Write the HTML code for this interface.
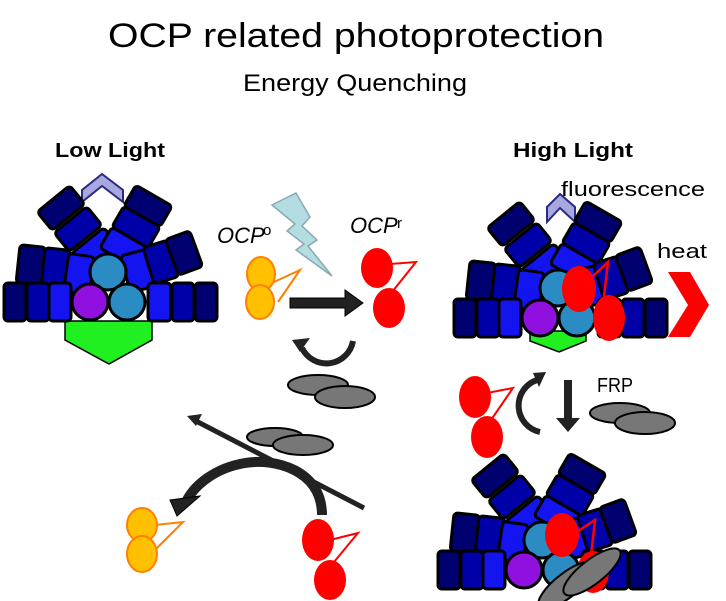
<!DOCTYPE html>
<html><head><meta charset="utf-8"><style>
html,body{margin:0;padding:0;background:#fff;}
svg{display:block;}
text{font-family:"Liberation Sans",sans-serif;fill:#000;}
</style></head><body>
<svg width="726" height="601" viewBox="0 0 726 601" xmlns="http://www.w3.org/2000/svg">
<defs>
<g id="pbs" stroke="#000" stroke-width="3">
  <rect x="-21" y="-12" width="42" height="24" rx="4" fill="#000070" transform="translate(61,208) rotate(-39)"/>
  <rect x="-21" y="-12" width="42" height="24" rx="4" fill="#0000a8" transform="translate(78,229) rotate(-39)"/>
  <rect x="-21" y="-12" width="42" height="24" rx="4" fill="#1414f0" transform="translate(95,250) rotate(-39)"/>
  <rect x="-21" y="-12" width="42" height="24" rx="4" fill="#000070" transform="translate(148,206) rotate(30)"/>
  <rect x="-21" y="-12" width="42" height="24" rx="4" fill="#0000a8" transform="translate(136,227) rotate(30)"/>
  <rect x="-21" y="-12" width="42" height="24" rx="4" fill="#1414f0" transform="translate(124,248) rotate(30)"/>
  <rect x="-13" y="-19" width="26" height="38" rx="4" fill="#000070" transform="translate(31,265) rotate(6)"/>
  <rect x="-13" y="-19" width="26" height="38" rx="4" fill="#0000a8" transform="translate(56,268) rotate(6)"/>
  <rect x="-13" y="-19" width="26" height="38" rx="4" fill="#1414f0" transform="translate(79,274) rotate(8)"/>
  <rect x="-13" y="-19" width="26" height="38" rx="4" fill="#1414f0" transform="translate(138,271) rotate(-15)"/>
  <rect x="-13" y="-19" width="26" height="38" rx="4" fill="#0000a8" transform="translate(161,262) rotate(-17)"/>
  <rect x="-13" y="-19" width="26" height="38" rx="4" fill="#000070" transform="translate(184,253) rotate(-20)"/>
  <circle cx="108" cy="272" r="18" fill="#2b8cc4"/>
  <circle cx="90" cy="302" r="18" fill="#9010e0"/>
  <circle cx="127" cy="302" r="18" fill="#2b8cc4"/>
  <rect x="4" y="283" width="22" height="38" rx="4" fill="#000070"/>
  <rect x="27" y="283" width="22" height="38" rx="4" fill="#0000a8"/>
  <rect x="49" y="283" width="22" height="38" rx="4" fill="#1414f0"/>
  <rect x="148" y="283" width="23" height="38" rx="4" fill="#1414f0"/>
  <rect x="172" y="283" width="22" height="38" rx="4" fill="#0000a8"/>
  <rect x="195" y="283" width="22" height="38" rx="4" fill="#000070"/>
</g>
</defs>

<text x="356" y="47" font-size="34" text-anchor="middle" textLength="496" lengthAdjust="spacingAndGlyphs">OCP related photoprotection</text>
<text x="355" y="91" font-size="24" text-anchor="middle" textLength="224" lengthAdjust="spacingAndGlyphs">Energy Quenching</text>
<text x="55" y="157" font-size="20" font-weight="bold" textLength="110" lengthAdjust="spacingAndGlyphs">Low Light</text>
<text x="513" y="157" font-size="20" font-weight="bold" textLength="120" lengthAdjust="spacingAndGlyphs">High Light</text>

<polygon points="82,190 102,174 123,190 123,202 102,186 82,202" fill="#a8a8e0" stroke="#2a2a80" stroke-width="2"/>
<polygon points="65,321 152,321 152,340 109,364 65,340" fill="#20f020" stroke="#000" stroke-width="1.5"/>
<use href="#pbs"/>

<text x="217" y="243" font-size="22" font-style="italic">OCP</text>
<text x="263" y="235" font-size="15">o</text>
<polygon points="272,205 296,193 310,217 302,226 317,240 308,246 332,276 296,250 304,244 287,231 295,224" fill="#b4dde2" stroke="#88aab0" stroke-width="1.5"/>
<path d="M274,282 L300,270 L278,302" fill="none" stroke="#ff8000" stroke-width="2"/>
<ellipse cx="261" cy="274" rx="14" ry="17" fill="#ffc000" stroke="#ff8000" stroke-width="2"/>
<ellipse cx="260" cy="302" rx="14" ry="17" fill="#ffc000" stroke="#ff8000" stroke-width="2"/>
<polygon points="290,298 345,298 345,290 363,303 345,316 345,308 290,308" fill="#222" stroke="#000" stroke-width="1"/>
<text x="350" y="233" font-size="22" font-style="italic">OCP</text>
<text x="397" y="228" font-size="15">r</text>
<path d="M390,264 L416,262 L392,292" fill="none" stroke="#ff0000" stroke-width="2"/>
<ellipse cx="377" cy="268" rx="16" ry="20" fill="#ff0000"/>
<ellipse cx="389" cy="308" rx="16" ry="20" fill="#ff0000"/>
<path d="M353,341 A27,27 0 0 1 302,348" fill="none" stroke="#222" stroke-width="6"/>
<polygon points="292,340 310,338 300,352" fill="#222"/>
<ellipse cx="318" cy="385" rx="30" ry="10" fill="#777" stroke="#000" stroke-width="2"/>
<ellipse cx="345" cy="397" rx="30" ry="11" fill="#777" stroke="#000" stroke-width="2"/>

<ellipse cx="275" cy="437" rx="28" ry="9" fill="#777" stroke="#000" stroke-width="2"/>
<ellipse cx="303" cy="445" rx="30" ry="10" fill="#777" stroke="#000" stroke-width="2"/>
<path d="M322,515 C322,470 275,458 245,463 C215,468 195,485 187,500" fill="none" stroke="#222" stroke-width="10"/>
<polygon points="170,500 200,496 177,516" fill="#222" stroke="#000" stroke-width="1"/>
<line x1="196" y1="421" x2="364" y2="508" stroke="#222" stroke-width="5"/>
<polygon points="187,416 202,414 196,426" fill="#222"/>
<path d="M155,525 L183,522 L155,550" fill="none" stroke="#ff8000" stroke-width="2"/>
<ellipse cx="142" cy="525" rx="15" ry="17" fill="#ffc000" stroke="#ff8000" stroke-width="2"/>
<ellipse cx="142" cy="554" rx="15" ry="18" fill="#ffc000" stroke="#ff8000" stroke-width="2"/>
<path d="M330,540 L358,533 L334,562" fill="none" stroke="#ff0000" stroke-width="2"/>
<ellipse cx="318" cy="540" rx="16" ry="21" fill="#ff0000"/>
<ellipse cx="330" cy="580" rx="16" ry="20" fill="#ff0000"/>

<text x="561" y="196" font-size="20" textLength="144" lengthAdjust="spacingAndGlyphs">fluorescence</text>
<polygon points="547,207 560,194 575,207 575,222 560,208 547,222" fill="#a8a8e0" stroke="#2a2a80" stroke-width="2"/>
<polygon points="530,331 586,331 586,341 559,352 530,341" fill="#20f020" stroke="#000" stroke-width="1.5"/>
<use href="#pbs" transform="translate(450,16)"/>
<path d="M591,278 L608,262 L603,305" fill="none" stroke="#ff0000" stroke-width="2.5"/>
<ellipse cx="579" cy="289" rx="17" ry="23" fill="#ff0000"/>
<ellipse cx="609" cy="318" rx="16" ry="23" fill="#ff0000"/>
<text x="657" y="258" font-size="20" textLength="50" lengthAdjust="spacingAndGlyphs">heat</text>
<polygon points="668,272 690,272 709,305 690,337 668,337 688,305" fill="#ff0000"/>

<path d="M487,393 L513,388 L491,420" fill="none" stroke="#ff0000" stroke-width="2"/>
<ellipse cx="475" cy="397" rx="16" ry="21" fill="#ff0000"/>
<ellipse cx="487" cy="437" rx="16" ry="21" fill="#ff0000"/>
<path d="M540,432 A27,27 0 0 1 537,380" fill="none" stroke="#222" stroke-width="6"/>
<polygon points="533,373 546,372 539,387" fill="#222"/>
<polygon points="564,380 572,380 572,418 580,418 568,432 556,418 564,418" fill="#222"/>
<text x="597" y="392" font-size="20" textLength="36" lengthAdjust="spacingAndGlyphs">FRP</text>
<ellipse cx="620" cy="413" rx="30" ry="10" fill="#777" stroke="#000" stroke-width="2"/>
<ellipse cx="645" cy="423" rx="30" ry="11" fill="#777" stroke="#000" stroke-width="2"/>

<use href="#pbs" transform="translate(434,268)"/>
<path d="M572,535 L595,520 L590,565" fill="none" stroke="#ff0000" stroke-width="2.5"/>
<ellipse cx="562" cy="535" rx="17" ry="22" fill="#ff0000"/>
<ellipse cx="593" cy="572" rx="16" ry="21" fill="#ff0000"/>
<ellipse cx="567" cy="585" rx="35" ry="12" fill="#777" stroke="#000" stroke-width="2" transform="rotate(-38 567 585)"/>
<ellipse cx="592" cy="572" rx="35" ry="12" fill="#777" stroke="#000" stroke-width="2" transform="rotate(-38 592 572)"/>
</svg>
</body></html>
